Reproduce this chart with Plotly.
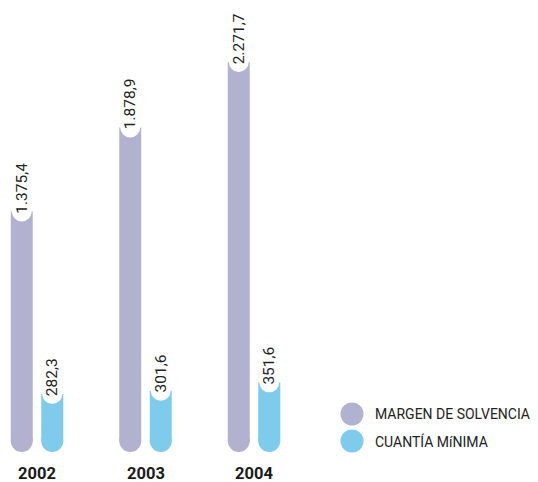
import plotly.graph_objects as go

# ---- data ----
years = ["2002", "2003", "2004"]
margen = [1375.4, 1878.9, 2271.7]
cuantia = [282.3, 301.6, 351.6]
margen_labels = ["1.375,4", "1.878,9", "2.271,7"]
cuantia_labels = ["282,3", "301,6", "351,6"]
series_names = ["MARGEN DE SOLVENCIA", "CUANTÍA MíNIMA"]
colors = ["#b2b2d0", "#7ecbec"]

# ---- geometry (page body adds an 8px margin) ----
PAD = 8
W, H = 538 - PAD, 482 - PAD
PX_X = 108.5           # px per category unit
X0_PX = 37 - PAD       # px of first group centre
MT, MB = 2, 30
PLOT_H = H - MT - MB
ZERO_PX = 441 - PAD    # pixel of value 0
S = 379 / 2271.7       # px per value unit
ymin = -(MT + PLOT_H - ZERO_PX) / S
ymax = ymin + PLOT_H / S
xmin = -X0_PX / PX_X
xmax = xmin + W / PX_X

BAR_PX = 22
bw = BAR_PX / PX_X
off = 15.25 / PX_X

def px_to_x(px):
    return xmin + (px - PAD) / PX_X

def py_to_y(py):
    return (ZERO_PX - (py - PAD)) / S

fig = go.Figure()
idx = list(range(len(years)))
for k, (vals, labs) in enumerate([(margen, margen_labels), (cuantia, cuantia_labels)]):
    xs = [i + (-off if k == 0 else off) for i in idx]
    fig.add_trace(go.Bar(x=xs, y=vals, width=bw, marker=dict(color=colors[k], line=dict(width=0)),
                         showlegend=False, hoverinfo="skip"))
    # rounded bottom caps
    fig.add_trace(go.Scatter(x=xs, y=[0] * len(xs), mode="markers", cliponaxis=False,
                             marker=dict(size=BAR_PX, color=colors[k], line=dict(width=0)),
                             showlegend=False, hoverinfo="skip"))
    # white notch at top
    fig.add_trace(go.Scatter(x=xs, y=vals, mode="markers", cliponaxis=False,
                             marker=dict(size=20, color="white", line=dict(width=0)),
                             showlegend=False, hoverinfo="skip"))
    for x, v, t in zip(xs, vals, labs):
        fig.add_annotation(x=x, y=v, text=t, textangle=-90, showarrow=False,
                           xanchor="center", yanchor="bottom", yshift=-4,
                           font=dict(family="Roboto", size=15.5, color="#222222"))

# year labels
for i, yr in zip(idx, years):
    fig.add_annotation(x=i, y=0, yref="paper", text="<b>%s</b>" % yr, showarrow=False,
                       yanchor="middle", yshift=-21,
                       font=dict(family="Roboto", size=16.5, color="#1a1a1a"))

# legend
leg_py = [414, 441]
for k in range(2):
    fig.add_trace(go.Scatter(x=[px_to_x(352)], y=[py_to_y(leg_py[k])], mode="markers", cliponaxis=False,
                             marker=dict(size=23, color=colors[k], line=dict(width=0)),
                             showlegend=False, hoverinfo="skip"))
    fig.add_annotation(x=px_to_x(373), y=py_to_y(leg_py[k]), text=series_names[k], showarrow=False,
                       xanchor="left", yanchor="middle",
                       font=dict(family="Roboto", size=14, color="#222222"))

fig.update_layout(width=W, height=H, margin=dict(l=0, r=0, t=MT, b=MB),
                  paper_bgcolor="white", plot_bgcolor="white", barmode="overlay",
                  xaxis=dict(range=[xmin, xmax], visible=False),
                  yaxis=dict(range=[ymin, ymax], visible=False))
fig.write_html("out.html")
